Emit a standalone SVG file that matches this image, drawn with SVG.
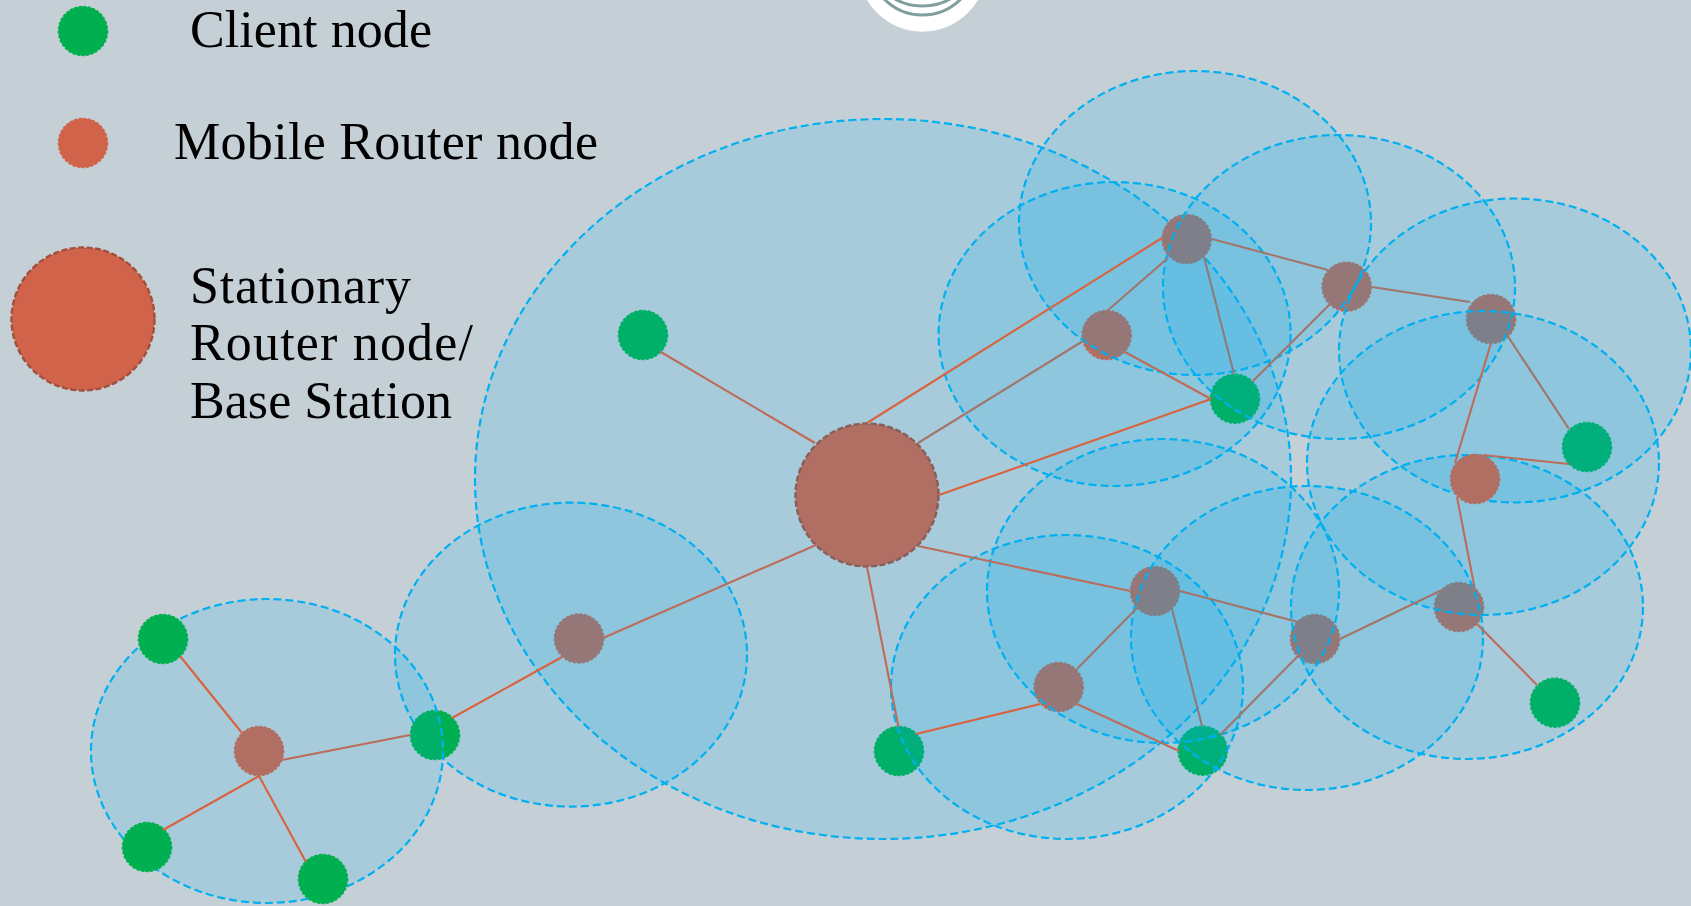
<svg xmlns="http://www.w3.org/2000/svg" width="1691" height="906" viewBox="0 0 1691 906">
<style>
.bg{fill:#C5D0D6}
.cov{fill:#00B0F0;fill-opacity:.15;stroke:#00B0F0;stroke-width:2.2;stroke-dasharray:8 4}
.cl circle{fill:#00B050;stroke:#00B050;stroke-width:1.6;stroke-dasharray:3 1.6}
.rt circle{fill:#D0634A;stroke:#D0634A;stroke-width:1.6;stroke-dasharray:3 1.6}
.bs circle{fill:#D0634A;stroke:#A0503E;stroke-width:2.4;stroke-dasharray:6 2.5}
.lbl{font-family:"Liberation Serif","Times New Roman",serif;font-size:52px;fill:#000}
line{stroke-width:2.1;fill:none}
.t0{stroke:#D9623F}
.t1{stroke:#BC6C58}
.t2{stroke:#A3746A}
.t3{stroke:#8F7A78}
</style>
<rect class="bg" width="1691" height="906"/>
<g id="logo">
<circle cx="922.5" cy="-32.7" r="64.4" fill="#fff"/>
<circle cx="922.5" cy="-39" r="54" fill="none" stroke="#7F9F9C" stroke-width="3"/>
<circle cx="922.5" cy="-51" r="57" fill="none" stroke="#7F9F9C" stroke-width="3"/>
</g>
<g id="legend">
<g id="legend-client" class="cl"><circle cx="83" cy="31" r="24.5"/></g>
<g id="legend-router" class="rt"><circle cx="83" cy="143" r="24.5"/></g>
<g id="legend-base" class="bs"><circle cx="83" cy="319" r="71.5"/></g>
<text class="lbl" x="190" y="47" textLength="242" lengthAdjust="spacing">Client node</text>
<text class="lbl" x="174" y="159" textLength="424" lengthAdjust="spacing">Mobile Router node</text>
<text class="lbl" x="190" y="303" textLength="221" lengthAdjust="spacing">Stationary</text>
<text class="lbl" x="190" y="360" textLength="283" lengthAdjust="spacing">Router node/</text>
<text class="lbl" x="190" y="418" textLength="262" lengthAdjust="spacing">Base Station</text>
</g>
<g id="base-station" class="bs"><circle cx="867" cy="495" r="71.5"/></g>
<g id="c643" class="cl"><circle cx="643" cy="335" r="24.5"/></g>
<g id="r579" class="rt"><circle cx="579" cy="638.5" r="24.5"/></g>
<g id="c899" class="cl"><circle cx="899" cy="751" r="24.5"/></g>
<ellipse id="cell-base" class="cov" cx="883" cy="479" rx="408" ry="360"/>
<ellipse id="cell-r579" class="cov" cx="571" cy="654.6" rx="176" ry="152"/>
<g id="c435" class="cl"><circle cx="435" cy="735" r="24.5"/></g>
<g id="r259" class="rt"><circle cx="259" cy="751" r="24.5"/></g>
<ellipse id="cell-r259" class="cov" cx="267" cy="751" rx="176" ry="152"/>
<g id="c163" class="cl"><circle cx="163" cy="639" r="24.5"/></g>
<g id="c147" class="cl"><circle cx="147" cy="847" r="24.5"/></g>
<g id="c323" class="cl"><circle cx="323" cy="879" r="24.5"/></g>
<g id="r1058" class="rt"><circle cx="1058.7" cy="687" r="24.5"/></g>
<g id="r1155" class="rt"><circle cx="1155" cy="591" r="24.5"/></g>
<g id="c1203" class="cl"><circle cx="1202.7" cy="750.7" r="24.5"/></g>
<g id="r1315" class="rt"><circle cx="1315" cy="639" r="24.5"/></g>
<g id="r1459" class="rt"><circle cx="1459" cy="607" r="24.5"/></g>
<g id="c1555" class="cl"><circle cx="1555" cy="702.7" r="24.5"/></g>
<g id="c1587" class="cl"><circle cx="1587" cy="447" r="24.5"/></g>
<g id="r1491" class="rt"><circle cx="1491" cy="319" r="24.5"/></g>
<g id="r1347" class="rt"><circle cx="1346.7" cy="286.7" r="24.5"/></g>
<g id="r1187" class="rt"><circle cx="1186.7" cy="239" r="24.5"/></g>
<g id="r1107" class="rt"><circle cx="1106.7" cy="335" r="24.5"/></g>
<g id="c1235" class="cl"><circle cx="1235" cy="398.7" r="24.5"/></g>
<ellipse id="cell-r1187" class="cov" cx="1195" cy="223" rx="176" ry="152"/>
<ellipse id="cell-r1107" class="cov" cx="1114.6" cy="334" rx="176" ry="152"/>
<ellipse id="cell-r1347" class="cov" cx="1339" cy="287" rx="176" ry="152"/>
<ellipse id="cell-c899" class="cov" cx="1067" cy="687" rx="176" ry="152"/>
<ellipse id="cell-r1155" class="cov" cx="1163" cy="591" rx="176" ry="152"/>
<ellipse id="cell-r1315" class="cov" cx="1307" cy="638" rx="176" ry="152"/>
<ellipse id="cell-r1491" class="cov" cx="1515" cy="350.5" rx="176" ry="152"/>
<ellipse id="cell-r1459" class="cov" cx="1467" cy="607" rx="176" ry="152"/>
<g id="r1475" class="rt"><circle cx="1475" cy="479" r="24.5"/></g>
<ellipse id="cell-r1475" class="cov" cx="1483" cy="463" rx="176" ry="152"/>
<g id="connectors">
<line class="t1" x1="815" y1="443" x2="660" y2="351.5"/>
<line class="t0" x1="867" y1="423" x2="1162" y2="238"/>
<line class="t2" x1="918" y1="443" x2="1083" y2="341"/>
<line class="t0" x1="939" y1="495" x2="1211" y2="399"/>
<line class="t1" x1="918" y1="546" x2="1130" y2="591"/>
<line class="t1" x1="867" y1="567" x2="898.5" y2="727"/>
<line class="t1" x1="816" y1="545" x2="603" y2="638"/>
<line class="t0" x1="452" y1="718" x2="562" y2="657"/>
<line class="t1" x1="410" y1="735" x2="282" y2="760"/>
<line class="t0" x1="180" y1="656" x2="242" y2="733"/>
<line class="t0" x1="163" y1="830" x2="259" y2="776"/>
<line class="t0" x1="259" y1="776" x2="306" y2="862"/>
<line class="t0" x1="916" y1="734" x2="1040" y2="704"/>
<line class="t2" x1="1077" y1="669" x2="1137" y2="608"/>
<line class="t1" x1="1077" y1="704" x2="1179" y2="751"/>
<line class="t3" x1="1172" y1="609" x2="1202" y2="726"/>
<line class="t2" x1="1180" y1="591" x2="1298" y2="622"/>
<line class="t2" x1="1298" y1="656" x2="1220" y2="735"/>
<line class="t2" x1="1340" y1="639" x2="1442" y2="590"/>
<line class="t1" x1="1477" y1="624" x2="1537" y2="685"/>
<line class="t1" x1="1457" y1="497" x2="1475" y2="590"/>
<line class="t1" x1="1455" y1="463" x2="1491" y2="343"/>
<line class="t1" x1="1483" y1="455" x2="1569" y2="464"/>
<line class="t2" x1="1507" y1="335" x2="1569" y2="429"/>
<line class="t2" x1="1470" y1="302" x2="1372" y2="287"/>
<line class="t2" x1="1328" y1="270" x2="1212" y2="239"/>
<line class="t2" x1="1330" y1="304" x2="1252" y2="382"/>
<line class="t3" x1="1204" y1="257" x2="1234" y2="374"/>
<line class="t2" x1="1168" y1="258" x2="1107" y2="311"/>
<line class="t1" x1="1125" y1="352" x2="1211" y2="399"/>
</g>
</svg>
